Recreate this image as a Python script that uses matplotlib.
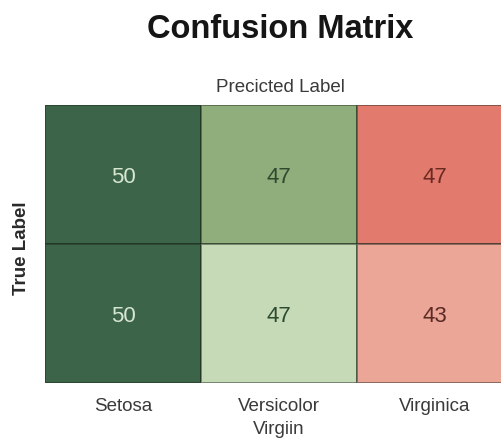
import numpy as np
from matplotlib import pyplot as plt
from matplotlib.colors import ListedColormap

plt.rcParams['font.family'] = ['Liberation Sans', 'DejaVu Sans']

# confusion matrix values
predicted_labels = ['Setosa', 'Versicolor\nVirgiin', 'Virginica']
counts = [[50, 47, 47],
          [50, 47, 43]]

# each cell has its own shade in the reference, not a value scale
cell_colors = [['#3b6449', '#8fae7c', '#e27b6d'],
               ['#3b6449', '#c6dab8', '#eba697']]
text_colors = [['#d8e8d0', '#2c4a2e', '#6a2a22'],
               ['#d8e8d0', '#2c4a2e', '#5a2a25']]

fig = plt.figure(figsize=(5.01, 4.41), dpi=100)
ax = fig.add_axes([45/501, 58/441, 468/501, 278/441])

n_rows, n_cols = len(counts), len(counts[0])
flat_colors = [c for row in cell_colors for c in row]
idx = np.arange(n_rows*n_cols).reshape(n_rows, n_cols)
ax.pcolormesh(idx, cmap=ListedColormap(flat_colors), vmin=-0.5, vmax=len(flat_colors)-0.5,
              edgecolors=(0.1, 0.15, 0.1, 0.45), linewidth=1.3)
ax.set_xlim(0, n_cols)
ax.set_ylim(n_rows, 0)

for i in range(n_rows):
    for j in range(n_cols):
        ax.text(j + 0.5, i + 0.52, str(counts[i][j]), ha='center', va='center',
                fontsize=16, color=text_colors[i][j])

ax.set_xticks(np.arange(n_cols) + 0.5)
ax.set_xticklabels(predicted_labels, fontsize=13.5, color='#3a3a3a', linespacing=1.45)
ax.tick_params(axis='x', length=0, pad=11)
ax.set_yticks([])
for s in ax.spines.values():
    s.set_visible(False)

fig.text(280/501, 1 - 30/441, 'Confusion Matrix', ha='center', va='center',
         fontsize=23.5, fontweight='bold', color='#151515')
fig.text(280/501, 1 - 87/441, 'Precicted Label', ha='center', va='center',
         fontsize=13.5, color='#3a3a3a')
fig.text(22/501, 1 - 248/441, 'True Label', ha='center', va='center', rotation=90,
         fontsize=13.5, fontweight='bold', color='#2a2a2a')

fig.savefig('out.png', dpi=100, facecolor='white')
